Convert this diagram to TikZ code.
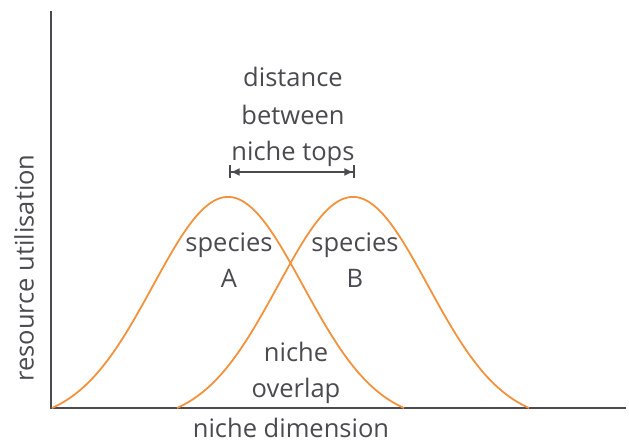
\documentclass[tikz,border=0pt]{standalone}
\usepackage{fontspec}
\setmainfont{Open Sans}
\usetikzlibrary{arrows.meta}
\definecolor{ink}{RGB}{74,74,80}
\definecolor{curve}{RGB}{243,146,60}
\begin{document}
\begin{tikzpicture}[x=1pt,y=1pt,
  lbl/.style={text=ink,font=\fontsize{25.5}{30}\selectfont,inner sep=0pt,anchor=base},
  axis/.style={draw=ink,line width=2pt},
  niche/.style={draw=curve,line width=1.8pt},
  dim/.style={draw=ink,line width=1.6pt,{Bar[width=13pt,line width=1.6pt]Latex[length=9pt,width=8pt]}-{Latex[length=9pt,width=8pt]Bar[width=13pt,line width=1.6pt]}}]
\useasboundingbox (0,0) rectangle (629,444);
% axes
\coordinate (o) at (51,36);
\coordinate (ytop) at (51,433);
\coordinate (xend) at (626,36);
\draw[axis] (ytop) -- (o) -- (xend);
% curves
\draw[niche] plot[domain=-176:176,samples=120,smooth] ({228+\x},{36+225.4*(exp(-0.5*(\x/75)^2)-0.0637)});
\draw[niche] plot[domain=-176:176,samples=120,smooth] ({353+\x},{36+225.4*(exp(-0.5*(\x/75)^2)-0.0637)});
% distance arrow
\coordinate (pa) at (229,272);
\coordinate (pb) at (355,272);
\draw[dim] (pa) -- (pb);
% labels
\node[lbl] (t1) at (293,357) {distance};
\node[lbl] (t2) at (293,319) {between};
\node[lbl] (t3) at (293,283) {niche tops};
\node[lbl] (sa1) at (229,192) {species};
\node[lbl] (sa2) at (229,156) {A};
\node[lbl] (sb1) at (355,192) {species};
\node[lbl] (sb2) at (355,156) {B};
\node[lbl] (n1) at (296,82) {niche};
\node[lbl] (n2) at (296,46) {overlap};
\node[lbl] (xl) at (291,6) {niche dimension};
\node[lbl,rotate=90,anchor=center] (yl) at (24,176) {resource utilisation};
\end{tikzpicture}
\end{document}
